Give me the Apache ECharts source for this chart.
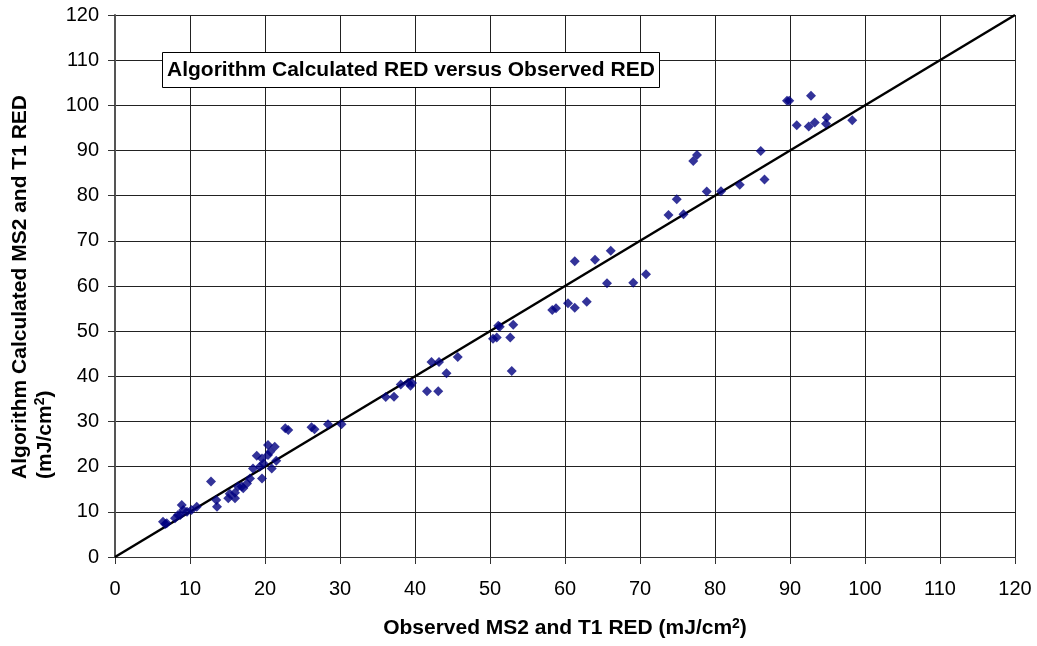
<!DOCTYPE html>
<html>
<head>
<meta charset="utf-8">
<script src="https://cdn.jsdelivr.net/npm/echarts@6/dist/echarts.min.js"></script>
<style>
  html, body { margin: 0; padding: 0; background: #fff; }
  #chart { width: 1037px; height: 646px; }
</style>
</head>
<body>
<div id="chart"></div>
<script>
// observed RED (x) / calculated RED (y)
var observed = [
  6.4, 6.9, 6.7, 8.0, 8.4, 8.7, 8.9, 9.1, 9.6, 10.2, 10.9,
  12.8, 13.5, 13.6, 15.1, 16.0, 16.4, 15.3, 16.0, 16.9, 17.1, 17.6, 18.0,
  18.4, 19.3, 19.6, 19.8, 18.9, 19.6, 20.4, 20.7, 20.4, 21.3, 21.5, 20.9,
  22.7, 23.1, 26.2, 26.6, 28.4, 30.2,
  36.1, 37.2, 38.1, 39.1, 39.6, 39.4, 41.6, 43.1, 42.2, 43.2, 44.2, 45.7,
  50.4, 50.9, 51.1, 51.3, 52.7, 53.1, 52.9,
  58.3, 58.8, 60.4, 61.3, 62.9, 61.3, 64.0, 66.1, 65.6, 69.1, 70.8,
  73.8, 74.9, 75.8, 77.1, 77.6, 78.9, 80.8, 83.3, 86.1, 86.6,
  89.6, 89.9, 92.8, 90.9, 92.5, 93.3, 94.9, 94.8, 98.3
];
var calculated = [
  7.8, 7.5, 7.3, 8.6, 9.3, 9.3, 11.5, 10.4, 10.0, 10.4, 11.1,
  16.7, 12.6, 11.1, 13.0, 13.0, 15.6, 14.0, 14.2, 15.6, 15.2, 16.3, 17.4,
  19.6, 20.0, 17.4, 20.7, 22.4, 21.8, 22.6, 23.3, 24.8, 24.4, 21.3, 19.6,
  28.5, 28.1, 28.7, 28.3, 29.4, 29.4,
  35.4, 35.5, 38.2, 38.6, 38.5, 37.9, 36.7, 36.7, 43.2, 43.2, 40.7, 44.3,
  48.3, 48.6, 51.2, 51.0, 48.6, 51.4, 41.2,
  54.7, 55.1, 56.2, 55.2, 56.5, 65.5, 65.8, 67.8, 60.6, 60.7, 62.6,
  75.7, 79.2, 75.9, 87.7, 89.0, 80.9, 81.0, 82.4, 89.9, 83.6,
  101.0, 101.0, 102.1, 95.6, 95.3, 96.2, 97.3, 95.9, 96.7
];
var oneToOne = [[0, 0], [120, 120]];

var chart = echarts.init(document.getElementById('chart'));

var points = observed.map(function (x, i) { return [x, calculated[i]]; });

var FONT = 'Liberation Sans, Arial';
var gridLine = { show: true, lineStyle: { color: '#222', width: 1 } };

var option = {
  animation: false,
  backgroundColor: '#fff',
  title: {
    text: 'Algorithm Calculated RED versus Observed RED',
    left: 162,
    top: 52,
    backgroundColor: '#fff',
    borderColor: '#000',
    borderWidth: 1,
    padding: [8, 5, 7, 5],
    textStyle: { fontFamily: FONT, fontSize: 21, fontWeight: 'bold', color: '#000' }
  },
  grid: { left: 115, right: 22, top: 15, bottom: 89 },
  xAxis: {
    type: 'value',
    min: 0,
    max: 120,
    interval: 10,
    axisLine: { show: true, onZero: false, lineStyle: { color: '#333', width: 1 } },
    axisTick: { show: true, length: 7, lineStyle: { color: '#333' } },
    axisLabel: { margin: 22, color: '#000', fontFamily: FONT, fontSize: 20 },
    splitLine: gridLine,
    name: '{t|Observed MS2 and T1 RED (mJ/cm}{s|2}{t|)}',
    nameLocation: 'middle',
    nameGap: 60,
    nameTextStyle: {
      rich: {
        t: { fontFamily: FONT, fontSize: 21, fontWeight: 'bold', color: '#000' },
        s: { fontFamily: FONT, fontSize: 14, fontWeight: 'bold', color: '#000', verticalAlign: 'top', padding: [0, 0, 9, 0] }
      }
    }
  },
  yAxis: {
    type: 'value',
    min: 0,
    max: 120,
    interval: 10,
    axisLine: { show: true, onZero: false, lineStyle: { color: '#555', width: 2 } },
    axisTick: { show: true, length: 7, lineStyle: { color: '#333' } },
    axisLabel: { margin: 16, color: '#000', fontFamily: FONT, fontSize: 20 },
    splitLine: gridLine
  },
  graphic: [
    {
      type: 'text',
      left: 10,
      top: 95,
      rotation: Math.PI / 2,
      style: {
        text: '{t|Algorithm Calculated MS2 and T1 RED}\n{t|(mJ/cm}{s|2}{t|)}',
        align: 'center',
        rich: {
          t: { fontFamily: FONT, fontSize: 21, fontWeight: 'bold', fill: '#000', lineHeight: 25 },
          s: { fontFamily: FONT, fontSize: 14, fontWeight: 'bold', fill: '#000', verticalAlign: 'top', lineHeight: 25 }
        }
      }
    }
  ],
  series: [
    {
      type: 'line',
      data: oneToOne,
      showSymbol: false,
      symbol: 'none',
      lineStyle: { color: '#000', width: 2.5 },
      z: 2
    },
    {
      type: 'scatter',
      data: points,
      symbol: 'diamond',
      symbolSize: 10,
      itemStyle: { color: '#000080' },
      z: 3
    }
  ]
};

chart.setOption(option);
</script>
</body>
</html>
